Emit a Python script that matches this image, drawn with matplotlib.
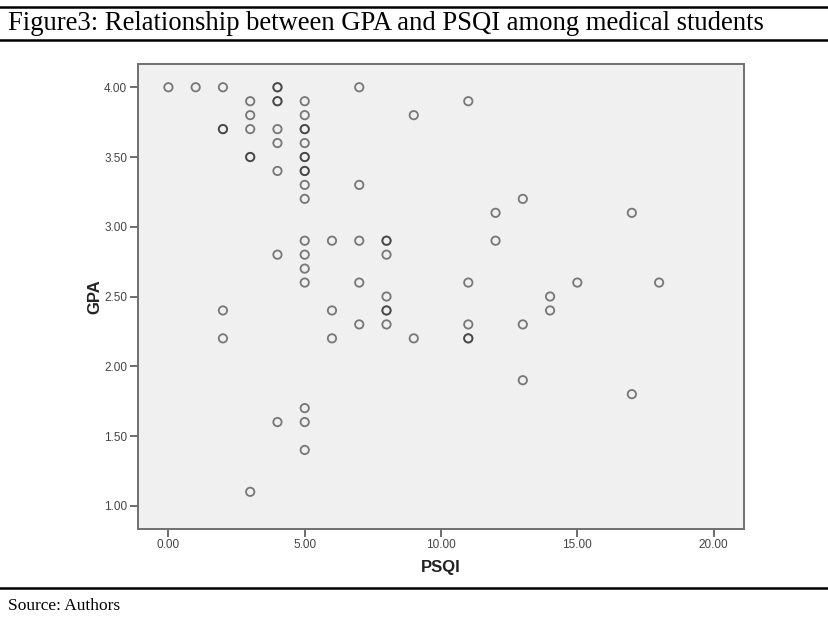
#plot.py
import matplotlib
matplotlib.use("Agg")
import matplotlib.pyplot as plt
from matplotlib.lines import Line2D

# PSQI score and GPA per student (repeated pairs are overlapping points)
psqi = [0, 1, 2, 4, 4, 7,
        3, 4, 4, 5, 11,
        3, 5, 9,
        2, 2, 3, 4, 5, 5,
        4, 5,
        3, 3, 5, 5,
        4, 5, 5,
        5, 7,
        5, 13,
        12, 17,
        5, 6, 7, 8, 8, 12,
        4, 5, 8,
        5,
        5, 7, 11, 15, 18,
        8, 14,
        2, 6, 8, 8, 14,
        7, 8, 11, 13,
        2, 6, 9, 11, 11,
        13, 17, 5, 4, 5, 5, 3]
gpa = [4.0] * 6 + [3.9] * 5 + [3.8] * 3 + [3.7] * 6 + [3.6] * 2 + [3.5] * 4 \
    + [3.4] * 3 + [3.3] * 2 + [3.2] * 2 + [3.1] * 2 + [2.9] * 6 + [2.8] * 3 \
    + [2.7] + [2.6] * 5 + [2.5] * 2 + [2.4] * 5 + [2.3] * 4 + [2.2] * 5 \
    + [1.9, 1.8, 1.7, 1.6, 1.6, 1.4, 1.1]

x_ticks = [0, 5, 10, 15, 20]
y_ticks = [1.0, 1.5, 2.0, 2.5, 3.0, 3.5, 4.0]

fig = plt.figure(figsize=(8.29, 6.23), dpi=100)
ax = fig.add_axes([0.166, 0.151, 0.731, 0.747])
ax.set_facecolor('#f0f0f0')

ax.scatter(psqi, gpa, s=36, facecolors='none', edgecolors=(0.15, 0.15, 0.15, 0.6),
           linewidths=1.3, zorder=3)

ax.set_xlim(-1.13, 21.1)
ax.set_ylim(0.834, 4.17)
ax.set_xticks(x_ticks)
ax.set_xticklabels(['%.2f' % v for v in x_ticks])
ax.set_yticks(y_ticks)
ax.set_yticklabels(['%.2f' % v for v in y_ticks])
ax.tick_params(axis='both', labelsize=8.5, colors='#555555', labelcolor='#444444',
               length=5.5, width=1.2, pad=2)
for lab in ax.get_xticklabels() + ax.get_yticklabels():
    lab.set_family('Liberation Sans')
for sp in ax.spines.values():
    sp.set_color('#707070')
    sp.set_linewidth(1.4)

ax.set_xlabel('PSQI', fontsize=12, fontweight='bold', family='Liberation Sans',
              color='#222222', labelpad=6)
ax.set_ylabel('GPA', fontsize=12, fontweight='bold', family='Liberation Sans',
              color='#222222', labelpad=1)

# page frame of the figure caption
for yy in [0.988, 0.936, 0.056]:
    fig.add_artist(Line2D([0, 1], [yy, yy], color='black', linewidth=1.8,
                          transform=fig.transFigure))
fig.text(0.010, 0.962, 'Figure3: Relationship between GPA and PSQI among medical students',
         fontsize=19.2, family='Liberation Serif', va='center', ha='left')
fig.text(0.010, 0.027, 'Source: Authors', fontsize=12.5, family='Liberation Serif',
         va='center', ha='left')

fig.savefig('out.png', dpi=100)
